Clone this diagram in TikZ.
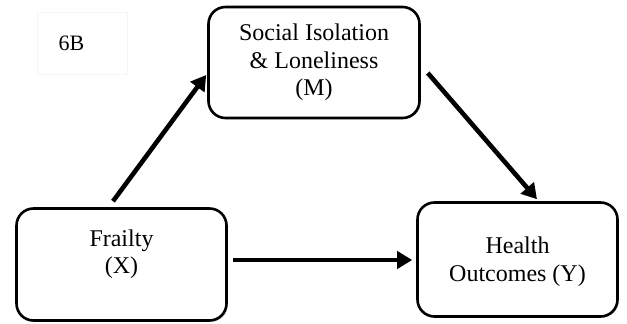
\documentclass[tikz,border=0pt]{standalone}
\usepackage{fontspec}
\setmainfont{Liberation Serif}
\usetikzlibrary{arrows.meta,shadows}
\begin{document}
\begin{tikzpicture}[x=1pt,y=1pt,
  box/.style={draw=black, line width=2.6pt, rounded corners=17pt, fill=white,
    drop shadow={shadow xshift=1.2pt, shadow yshift=-1.2pt, fill=gray!55, opacity=0.8},
    inner sep=0pt},
  txt/.style={align=center, font=\fontsize{24}{27.5}\selectfont},
  arr/.style={line width=4.6pt, -{Triangle[length=15pt,width=17pt]}}
]
\useasboundingbox (0,0) rectangle (627,324);
\fill[white] (0,0) rectangle (627,324);
% label box
\node[draw=gray!8, line width=1pt, minimum width=90pt, minimum height=62pt, inner sep=0pt] (lbl) at (82,280) {};
\node[font=\fontsize{22}{26}\selectfont, anchor=west] (lbltxt) at (55,281) {6B};
% boxes
\node[box, minimum width=211pt, minimum height=111pt] (M) at (314,261.5) {};
\node[box, minimum width=210pt, minimum height=112pt] (X) at (121.5,59.5) {};
\node[box, minimum width=200pt, minimum height=114pt] (Y) at (517.5,64.5) {};
% texts
\node[txt] (Mt) at ([yshift=0pt]M.center) {Social Isolation\\\& Loneliness\\(M)};
\node[txt] (Xt) at ([yshift=10.5pt]X.center) {Frailty\\(X)};
\node[txt] (Yt) at ([yshift=-2pt]Y.center) {Health\\Outcomes (Y)};
% arrows
\draw[arr] ([xshift=-8.5pt,yshift=6pt]X.north) -- ([xshift=-1pt,yshift=-12.5pt]M.west);
\draw[arr] ([xshift=7pt,yshift=-10.5pt]M.east) -- ([xshift=19.5pt,yshift=2pt]Y.north);
\draw[arr] ([xshift=5pt,yshift=4.5pt]X.east) -- ([xshift=-4pt,yshift=-0.5pt]Y.west);
\end{tikzpicture}
\end{document}
